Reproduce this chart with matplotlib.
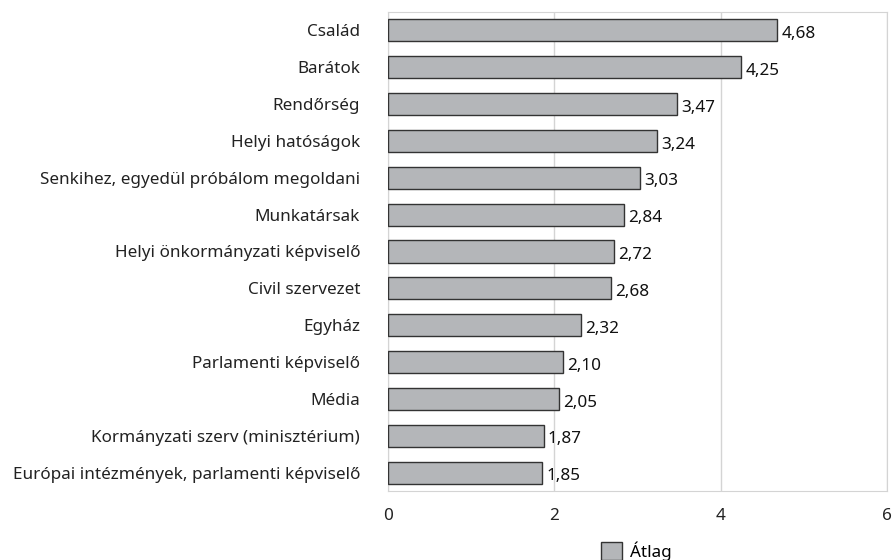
import matplotlib; matplotlib.use("Agg")
import matplotlib.pyplot as plt

categories = ["Család", "Barátok", "Rendőrség", "Helyi hatóságok",
              "Senkihez, egyedül próbálom megoldani", "Munkatársak",
              "Helyi önkormányzati képviselő", "Civil szervezet", "Egyház",
              "Parlamenti képviselő", "Média", "Kormányzati szerv (minisztérium)",
              "Európai intézmények, parlamenti képviselő"]
values = [4.68, 4.25, 3.47, 3.24, 3.03, 2.84, 2.72, 2.68, 2.32, 2.10, 2.05, 1.87, 1.85]
xticks = [0, 2, 4, 6]

plt.rcParams.update({"font.family": ["Noto Sans", "DejaVu Sans"], "font.size": 12.3})
fig = plt.figure(figsize=(8.93, 5.6), dpi=100)
ax = fig.add_axes([0.4345, 0.1232, 0.5588, 0.8554])

y = list(range(len(categories)))
bars = ax.barh(y, values, height=0.6, color="#b4b6b9", edgecolor="#333333",
               linewidth=1.0, label="Átlag", zorder=3)
for b, v in zip(bars, values):
    ax.text(v + 0.05, b.get_y() + b.get_height() / 2 + 0.1, f"{v:.2f}".replace(".", ","),
            ha="left", va="center", color="#111111", zorder=4)

ax.set_yticks(y)
ax.set_yticklabels(categories, color="#222222")
ax.set_ylim(len(categories) - 0.5, -0.5)
ax.set_xlim(0, 6)
ax.set_xticks(xticks)
ax.set_xticklabels([str(t) for t in xticks], color="#222222")
ax.tick_params(length=0)
ax.tick_params(axis="y", pad=20)
ax.tick_params(axis="x", pad=12)
ax.grid(axis="x", color="#d4d4d4", linewidth=1, zorder=0)
for s in ax.spines.values():
    s.set_color("#d4d4d4")

fig.legend(handles=[bars], labels=["Átlag"], loc="center", bbox_to_anchor=(0.713, 0.016),
           frameon=False, handlelength=1.2, handleheight=1.2, handletextpad=0.5)
fig.savefig("out.png", dpi=100)
